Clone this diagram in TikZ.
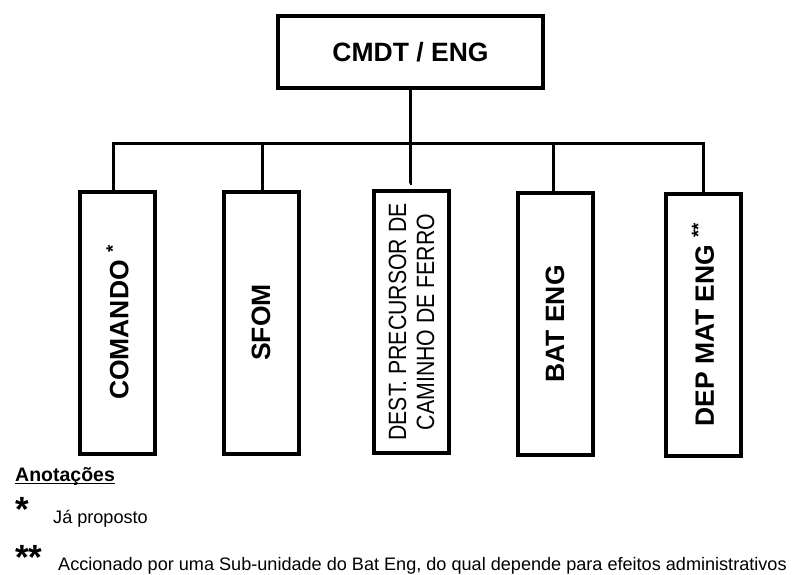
\documentclass[tikz,border=0pt]{standalone}
\usepackage{fontspec}
\setmainfont{Liberation Sans}
\newfontfamily\narrowfont[FakeStretch=0.85]{Liberation Sans}
\newcommand{\boxfont}{\fontsize{26.5}{28}\selectfont\bfseries}
\newcommand{\notefont}{\fontsize{18.1}{20}\selectfont}
\newcommand{\starfont}{\fontsize{35}{35}\selectfont\bfseries}
\begin{document}
\begin{tikzpicture}[x=1pt,y=-1pt]
  \useasboundingbox (0,0) rectangle (792,575);

  \begin{scope}[every node/.style={draw,line width=4pt,inner sep=0pt,font=\boxfont}]
    \node[minimum width=265pt,minimum height=72pt] (cmdt) at (410.5,52) {CMDT / ENG};
  \end{scope}

  \begin{scope}[every node/.style={draw,line width=4pt,rotate=90,inner sep=0pt,
      minimum width=262pt,minimum height=75pt,font=\boxfont}]
    \node (comando) at (117.5,322.5) {COMANDO \textsuperscript{*}};
    \node (sfom)    at (261,322.5)   {SFOM};
    \node[align=center,font={\narrowfont\fontsize{25}{28}\selectfont}]
                    (dest)    at (411.5,322) {DEST. PRECURSOR DE\\CAMINHO DE FERRO};
    \node (bateng)  at (555,324)     {BAT ENG};
    \node (depmat)  at (703,324.5)   {DEP MAT ENG \textsuperscript{**}};
  \end{scope}

  \coordinate (bus)  at (410,143);
  \coordinate (stub) at (410,183);

  \begin{scope}[every edge/.style={draw,line width=3pt,to path={|- (\tikztotarget)}}]
    \path (cmdt.south)                  edge (stub);
    \path ([xshift=-4.5pt]comando.east) edge (bus);
    \path ([xshift=1pt]sfom.east)       edge (bus);
    \path ([xshift=-2pt]bateng.east)    edge (bus);
    \path (depmat.east)                 edge (bus);
  \end{scope}

  \begin{scope}[every node/.style={anchor=base west,inner sep=0pt,font=\notefont}]
    \node[font=\fontsize{19.5}{20}\selectfont\bfseries] (notes) at (15,481) {Anotações};
    \node[font=\starfont,text depth=0pt] (star1) at (15,521) {*};
    \node (note1) at (53,523) {Já proposto};
    \node[font=\starfont,text depth=0pt] (star2) at (15,569) {**};
    \node (note2) at (58,570) {Accionado por uma Sub-unidade do Bat Eng, do qual depende para efeitos administrativos};
  \end{scope}
  \draw[line width=1.3pt] ([yshift=-2.5pt]notes.base west) -- ([yshift=-2.5pt]notes.base east);

\end{tikzpicture}
\end{document}
